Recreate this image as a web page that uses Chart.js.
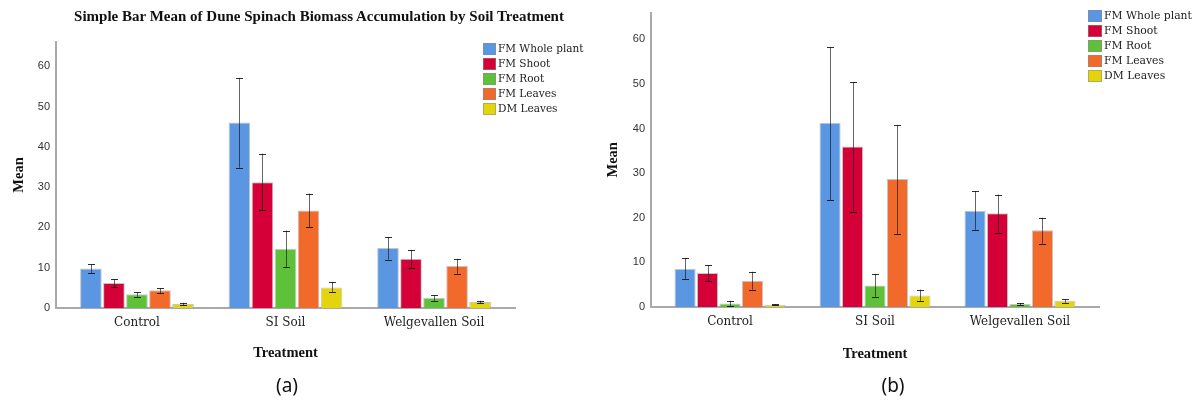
<!DOCTYPE html>
<html>
<head>
<meta charset="utf-8">
<script src="https://cdn.jsdelivr.net/npm/chart.js@4.4.1/dist/chart.umd.min.js"></script>
<style>
  html, body { margin: 0; padding: 0; background: #fff; }
  body { width: 1199px; height: 406px; position: relative; overflow: hidden; }
  .panel { position: absolute; top: 0; height: 406px; }
  .title { position: absolute; font: bold 15px "Liberation Serif", serif; color: #111; white-space: nowrap; text-align: center; }
  .legend { position: absolute; font-family: "DejaVu Serif", serif; color: #222; }
  .legend .row { position: relative; height: 15px; line-height: 15px; white-space: nowrap; }
  .legend .sw { position: absolute; left: 0; top: 2px; width: 11px; height: 10px; border: 1px solid rgba(140,140,140,0.55); }
  .legend .tx { position: absolute; top: 0; }
  .cap { position: absolute; font: 19px "Noto Sans", sans-serif; color: #111; text-align: center; }
</style>
</head>
<body>
<div class="panel" style="left:0;width:600px"><canvas id="chartA" width="600" height="406"></canvas></div>
<div class="panel" style="left:600px;width:599px"><canvas id="chartB" width="599" height="406"></canvas></div>
<div class="title" style="left:19px;top:8px;width:600px">Simple Bar Mean of Dune Spinach Biomass Accumulation by Soil Treatment</div>
<div class="legend" id="legendA" style="left:483px;top:41px;font-size:10.5px"></div>
<div class="legend" id="legendB" style="left:1088px;top:8px;font-size:10.8px"></div>
<div class="cap" style="left:247px;top:372px;width:80px">(a)</div>
<div class="cap" style="left:853px;top:372px;width:80px">(b)</div>
<script>
// Treatments and measured variables
const categories = ['Control', 'SI Soil', 'Welgevallen Soil'];
const seriesNames = ['FM Whole plant', 'FM Shoot', 'FM Root', 'FM Leaves', 'DM Leaves'];
const seriesColors = ['#5b96e3', '#d50037', '#5fc13a', '#f26a2b', '#e3d40d'];
const yTicks = [0, 10, 20, 30, 40, 50, 60];
const yMax = 66;

// Panel (a): means with lower / upper error-bar limits
const aWhole = [9.8, 46.0, 14.9];
const aWholeLow = [8.7, 34.8, 12.0];
const aWholeHigh = [10.8, 57.1, 17.5];
const aShoot = [6.2, 31.2, 12.2];
const aShootLow = [5.3, 24.3, 9.9];
const aShootHigh = [7.2, 38.3, 14.4];
const aRoot = [3.4, 14.7, 2.5];
const aRootLow = [2.8, 10.2, 1.8];
const aRootHigh = [3.9, 19.2, 3.2];
const aLeaves = [4.4, 24.2, 10.4];
const aLeavesLow = [3.6, 20.0, 8.5];
const aLeavesHigh = [4.9, 28.4, 12.2];
const aDry = [1.0, 5.1, 1.5];
const aDryLow = [0.7, 3.9, 1.2];
const aDryHigh = [1.3, 6.4, 1.8];

// Panel (b): means with lower / upper error-bar limits
const bWhole = [8.6, 41.3, 21.6];
const bWholeLow = [6.3, 24.0, 17.3];
const bWholeHigh = [10.9, 58.2, 26.0];
const bShoot = [7.6, 36.0, 21.0];
const bShootLow = [5.8, 21.4, 16.7];
const bShootHigh = [9.4, 50.4, 25.2];
const bRoot = [0.8, 4.8, 0.65];
const bRootLow = [0.2, 2.3, 0.4];
const bRootHigh = [1.4, 7.4, 0.9];
const bLeaves = [5.9, 28.7, 17.2];
const bLeavesLow = [3.9, 16.4, 14.2];
const bLeavesHigh = [7.9, 40.8, 20.0];
const bDry = [0.5, 2.6, 1.4];
const bDryLow = [0.35, 1.4, 1.0];
const bDryHigh = [0.65, 3.9, 1.7];

// Draws the vertical error bars with end caps over each bar
const errorBars = {
  id: 'errorBars',
  afterDatasetsDraw(chart) {
    const ctx = chart.ctx;
    const ys = chart.scales.y;
    chart.data.datasets.forEach((ds, i) => {
      const meta = chart.getDatasetMeta(i);
      meta.data.forEach((bar, j) => {
        const x = Math.round(bar.x) + 0.5;
        const yLo = ys.getPixelForValue(ds.errLow[j]);
        const yHi = ys.getPixelForValue(ds.errHigh[j]);
        ctx.save();
        ctx.strokeStyle = 'rgba(20,20,20,0.65)';
        ctx.lineWidth = 1;
        ctx.beginPath();
        ctx.moveTo(x, yHi);
        ctx.lineTo(x, yLo);
        ctx.stroke();
        ctx.strokeStyle = 'rgba(10,10,10,0.85)';
        ctx.beginPath();
        ctx.moveTo(x - 3.5, Math.round(yHi) + 0.5);
        ctx.lineTo(x + 3.5, Math.round(yHi) + 0.5);
        ctx.moveTo(x - 3.5, Math.round(yLo) + 0.5);
        ctx.lineTo(x + 3.5, Math.round(yLo) + 0.5);
        ctx.stroke();
        ctx.restore();
      });
    });
  }
};

function makeDatasets(means, lows, highs) {
  return seriesNames.map((name, i) => ({
    label: name,
    data: means[i].map((v, j) => ({ x: j, y: v })),
    errLow: lows[i],
    errHigh: highs[i],
    backgroundColor: seriesColors[i],
    borderColor: 'rgba(150,150,150,0.55)',
    borderWidth: 1,
    categoryPercentage: 0.775,
    barPercentage: 0.94
  }));
}

function makeChart(id, datasets, geom) {
  return new Chart(document.getElementById(id), {
    type: 'bar',
    data: { datasets },
    options: {
      responsive: false,
      animation: false,
      devicePixelRatio: 1,
      layout: { padding: { left: 0, top: geom.top, right: geom.right, bottom: 0 } },
      plugins: { legend: { display: false }, tooltip: { enabled: false }, title: { display: false } },
      scales: {
        x: {
          type: 'linear',
          min: -0.545,
          max: 2.545,
          offset: false,
          grid: { display: false, drawTicks: false },
          border: { display: true, color: '#a9a9a9', width: 2 },
          afterBuildTicks(scale) { scale.ticks = categories.map((c, i) => ({ value: i })); },
          afterFit(scale) { scale.height = geom.xHeight; },
          ticks: {
            autoSkip: false, maxRotation: 0, padding: geom.xTickPad,
            color: '#222', font: { family: 'DejaVu Serif', size: geom.catSize },
            callback: (v) => categories[v]
          },
          title: {
            display: true, text: 'Treatment', color: '#111',
            font: { family: 'Liberation Serif', size: 14.5, weight: 'bold' },
            padding: { top: 0, bottom: geom.xTitlePad }
          }
        },
        y: {
          min: 0,
          max: yMax,
          grid: { display: false, drawTicks: false },
          border: { display: true, color: '#a9a9a9', width: 2 },
          afterBuildTicks(scale) { scale.ticks = yTicks.map(v => ({ value: v })); },
          afterFit(scale) { scale.width = geom.left; },
          ticks: { padding: 6, color: '#333', font: { family: 'Liberation Sans', size: geom.tickSize } },
          title: {
            display: true, text: 'Mean', color: '#111',
            font: { family: 'Liberation Serif', size: 14.5, weight: 'bold' },
            padding: { top: geom.yTitlePad, bottom: 0 }
          }
        }
      }
    },
    plugins: [errorBars]
  });
}

function buildLegend(id, boxW) {
  const el = document.getElementById(id);
  seriesNames.forEach((name, i) => {
    const row = document.createElement('div');
    row.className = 'row';
    const sw = document.createElement('span');
    sw.className = 'sw';
    sw.style.background = seriesColors[i];
    sw.style.width = boxW + 'px';
    const tx = document.createElement('span');
    tx.className = 'tx';
    tx.style.left = (boxW + 4) + 'px';
    tx.textContent = name;
    row.appendChild(sw);
    row.appendChild(tx);
    el.appendChild(row);
  });
}

makeChart('chartA',
  makeDatasets([aWhole, aShoot, aRoot, aLeaves, aDry],
               [aWholeLow, aShootLow, aRootLow, aLeavesLow, aDryLow],
               [aWholeHigh, aShootHigh, aRootHigh, aLeavesHigh, aDryHigh]),
  { top: 42, right: 85, left: 56, xHeight: 98, xTickPad: 8, xTitlePad: 44, yTitlePad: 11, catSize: 12, tickSize: 11 });

makeChart('chartB',
  makeDatasets([bWhole, bShoot, bRoot, bLeaves, bDry],
               [bWholeLow, bShootLow, bRootLow, bLeavesLow, bDryLow],
               [bWholeHigh, bShootHigh, bRootHigh, bLeavesHigh, bDryHigh]),
  { top: 9, right: 100, left: 51, xHeight: 99, xTickPad: 8, xTitlePad: 43, yTitlePad: 5, catSize: 12, tickSize: 11 });

buildLegend('legendA', 11);
buildLegend('legendB', 12);
</script>
</body>
</html>
